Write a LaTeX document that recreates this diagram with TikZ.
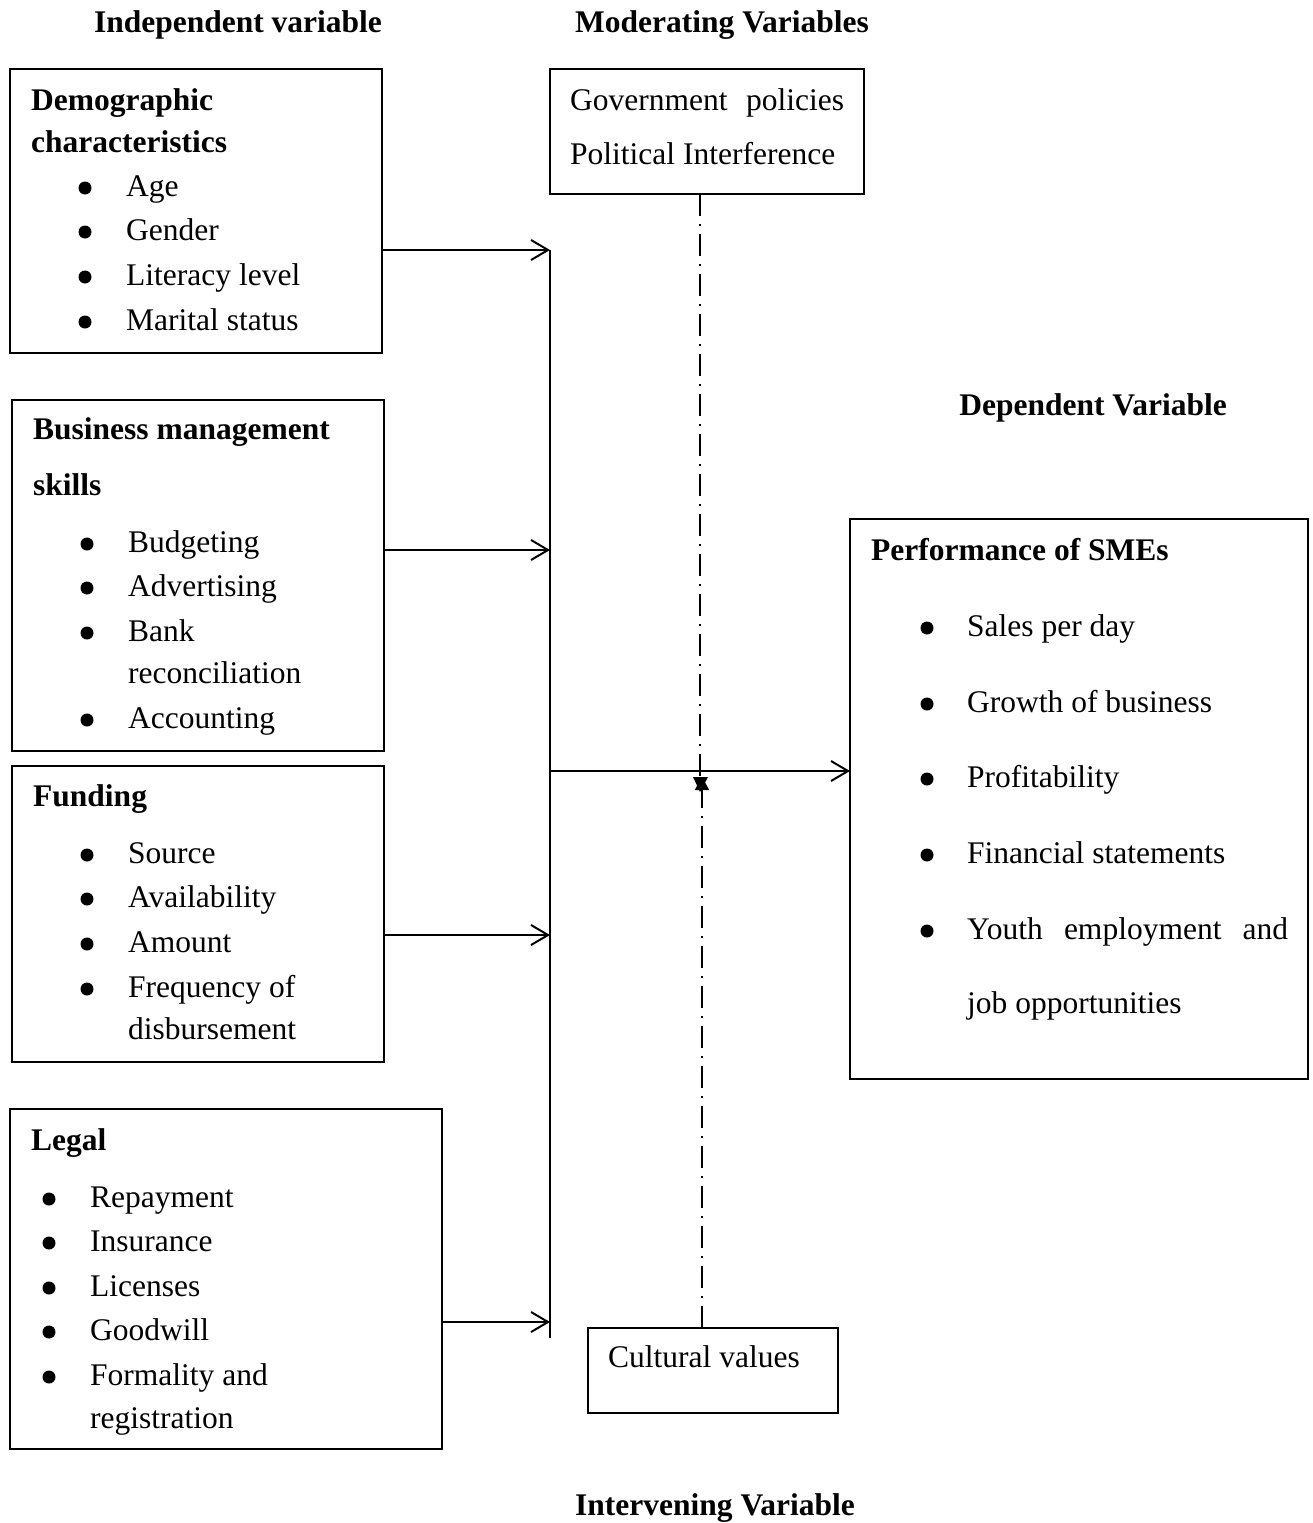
\documentclass[tikz,border=0pt]{standalone}
\usepackage{fontspec}
\setmainfont{Liberation Serif}
\usetikzlibrary{arrows.meta}
\newcommand{\fsz}{\fontsize{31.5}{36}\selectfont}
\tikzset{
  x=1pt, y=-1pt,
  txt/.style={anchor=base west, inner sep=0pt, font=\fsz, yshift=-2pt},
  hd/.style={anchor=base west, inner sep=0pt, font=\fsz\bfseries, yshift=-2pt},
  ttl/.style={anchor=base, inner sep=0pt, font=\fsz\bfseries, yshift=-2pt},
  bul/.style={circle, fill, inner sep=0pt, minimum size=13pt, yshift=-2pt},
  box/.style={draw, line width=1.6pt, anchor=north west, inner sep=0pt, outer sep=0pt},
  arr/.style={line width=2pt, -{Straight Barb[length=17pt,width=20pt,line width=2pt]}},
  ln/.style={line width=2pt},
  dd/.style={line width=2pt, dash pattern=on 22pt off 8pt on 2pt off 8pt},
  ddtip/.style={-{Triangle[length=13pt,width=14pt]}}
}
\begin{document}
\begin{tikzpicture}
\useasboundingbox (0,0) rectangle (1312,1523);
% titles
\node[ttl] (t1) at (238,30) {Independent variable};
\node[ttl] (t2) at (722,30) {Moderating Variables};
\node[ttl] (t3) at (1093,413) {Dependent Variable};
\node[ttl] (t4) at (715,1513) {Intervening Variable};
% boxes
\node[box, minimum width=372pt, minimum height=284pt] (demo) at (10,69) {};
\node[box, minimum width=372pt, minimum height=351pt] (bms) at (12,400) {};
\node[box, minimum width=372pt, minimum height=296pt] (fund) at (12,766) {};
\node[box, minimum width=432pt, minimum height=340pt] (legal) at (10,1109) {};
\node[box, minimum width=314pt, minimum height=125pt] (gov) at (550,69) {};
\node[box, minimum width=458pt, minimum height=560pt] (perf) at (850,519) {};
\node[box, minimum width=250pt, minimum height=85pt] (cult) at (588,1328) {};
% demographic
\node[hd] (d0) at (31,108) {Demographic};
\node[hd] (d1) at (31,150) {characteristics};
\foreach \y/\t [count=\i] in {194/Age,238/Gender,283/Literacy level,328/Marital status}{
  \node[bul] (db\i) at (85,\y-8) {};
  \node[txt] (dt\i) at (126,\y) {\t};
}
% business management
\node[hd] (b0) at (33,437) {Business management};
\node[hd] (b1) at (33,493) {skills};
\foreach \y [count=\i] in {550,594,639,726}{
  \node[bul] (bb\i) at (87,\y-8) {};
}
\foreach \y/\t [count=\i] in {550/Budgeting,594/Advertising,639/Bank,681/reconciliation,726/Accounting}{
  \node[txt] (bt\i) at (128,\y) {\t};
}
% funding
\node[hd] (f0) at (33,804) {Funding};
\foreach \y [count=\i] in {861,905,950,995}{
  \node[bul] (fb\i) at (87,\y-8) {};
}
\foreach \y/\t [count=\i] in {861/Source,905/Availability,950/Amount,995/Frequency of,1037/disbursement}{
  \node[txt] (ft\i) at (128,\y) {\t};
}
% legal
\node[hd] (l0) at (31,1148) {Legal};
\foreach \y [count=\i] in {1205,1249,1294,1338,1383}{
  \node[bul] (lb\i) at (49,\y-8) {};
}
\foreach \y/\t [count=\i] in {1205/Repayment,1249/Insurance,1294/Licenses,1338/Goodwill,1383/Formality and,1426/registration}{
  \node[txt] (lt\i) at (90,\y) {\t};
}
% government
\node[txt] (g1) at (570,108) {\makebox[274pt][s]{Government policies}};
\node[txt] (g2) at (570,162) {Political Interference};
% performance
\node[hd] (p0) at (871,558) {Performance of SMEs};
\foreach \y [count=\i] in {634,710,785,861,937}{
  \node[bul] (pb\i) at (927,\y-8) {};
}
\node[txt] (pt1) at (967,634) {Sales per day};
\node[txt] (pt2) at (967,710) {Growth of business};
\node[txt] (pt3) at (967,785) {Profitability};
\node[txt] (pt4) at (967,861) {Financial statements};
\node[txt] (pt5) at (967,937) {\makebox[321pt][s]{Youth employment and}};
\node[txt] (pt6) at (967,1011) {job opportunities};
% cultural
\node[txt] (c1) at (608,1365) {Cultural values};
% connectors
\coordinate (j1) at (550,250);
\coordinate (j2) at (550,550);
\coordinate (j3) at (550,935);
\coordinate (j4) at (550,1322);
\coordinate (jt) at (550,250);
\coordinate (jb) at (550,1338);
\coordinate (jm) at (550,771);
\draw[ln] (jt) -- (jb);
\draw[arr] (j1 -| demo.east) -- (j1);
\draw[arr] (j2 -| bms.east) -- (j2);
\draw[arr] (j3 -| fund.east) -- (j3);
\draw[arr] (j4 -| legal.east) -- (j4);
\draw[arr] (jm) -- (jm -| perf.west);
% moderating / intervening
\coordinate (mt) at (700,790);
\coordinate (mb) at (702,777);
\draw[dd] (mt |- gov.south) -- (mt);
\draw[dd, ddtip] (mb |- cult.north) -- (mb);
\fill (693,777) -- (708,777) -- (700,792) -- cycle;
\end{tikzpicture}
\end{document}
